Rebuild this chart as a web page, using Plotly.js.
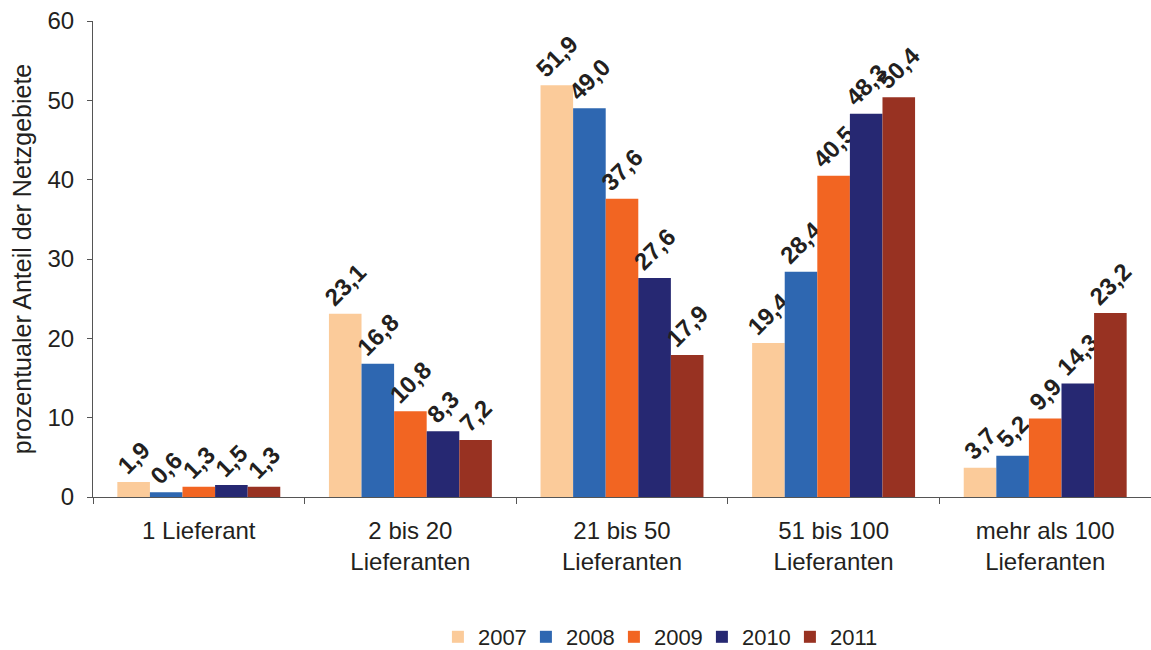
<!DOCTYPE html>
<html>
<head>
<meta charset="utf-8">
<script src="https://cdn.plot.ly/plotly-3.0.1.min.js"></script>
<style>
html,body{margin:0;padding:0;background:#fff;}
#chart{width:1151px;height:650px;}
</style>
</head>
<body>
<div id="chart"></div>
<script>
const categories = ["1 Lieferant", "2 bis 20<br>Lieferanten", "21 bis 50<br>Lieferanten", "51 bis 100<br>Lieferanten", "mehr als 100<br>Lieferanten"];
const years = ["2007", "2008", "2009", "2010", "2011"];
const v2007 = [1.9, 23.1, 51.9, 19.4, 3.7];
const v2008 = [0.6, 16.8, 49.0, 28.4, 5.2];
const v2009 = [1.3, 10.8, 37.6, 40.5, 9.9];
const v2010 = [1.5, 8.3, 27.6, 48.3, 14.3];
const v2011 = [1.3, 7.2, 17.9, 50.4, 23.2];
const yTicks = [0, 10, 20, 30, 40, 50, 60];

const series = [v2007, v2008, v2009, v2010, v2011];
const colors = ["#FBCB9A", "#2E67B1", "#F26522", "#262872", "#983222"];
const fontFam = "Liberation Sans, Arial, sans-serif";

const traces = series.map((vals, i) => ({
  type: "bar",
  name: years[i],
  x: categories,
  y: vals,
  marker: {color: colors[i], line: {width: 0}},
  text: vals.map(v => v.toFixed(1).replace(".", ",")),
  textposition: "outside",
  textangle: -45,
  constraintext: "none",
  cliponaxis: false,
  outsidetextfont: {family: fontFam, size: 24, color: "#231f20", weight: "bold"},
  hoverinfo: "skip"
}));

const layout = {
  width: 1151,
  height: 650,
  margin: {l: 93, r: 0, t: 21, b: 153, autoexpand: false},
  paper_bgcolor: "#fff",
  plot_bgcolor: "#fff",
  barmode: "group",
  bargap: 0.23,
  bargroupgap: 0,
  showlegend: true,
  legend: {
    orientation: "h",
    xref: "paper",
    x: 0.326, xanchor: "left",
    yref: "container",
    y: 0.02, yanchor: "middle",
    entrywidth: 43,
    entrywidthmode: "pixels",
    font: {family: fontFam, size: 22, color: "#231f20"},
    traceorder: "normal"
  },
  xaxis: {
    type: "category",
    tickson: "boundaries",
    ticks: "outside",
    ticklen: 6,
    tickcolor: "#555",
    showline: true,
    linecolor: "#555",
    linewidth: 1,
    showgrid: false,
    tickfont: {family: fontFam, size: 24, color: "#231f20"},
    ticklabelstandoff: 12
  },
  yaxis: {
    range: [0, 60],
    tickvals: yTicks,
    ticktext: yTicks.map(String),
    ticks: "outside",
    ticklen: 5,
    tickcolor: "#555",
    showline: true,
    linecolor: "#555",
    linewidth: 1,
    showgrid: false,
    zeroline: false,
    ticklabelstandoff: 8,
    tickfont: {family: fontFam, size: 24, color: "#231f20"},
    title: {text: "prozentualer Anteil der Netzgebiete", font: {family: fontFam, size: 25, color: "#231f20"}, standoff: 8}
  },
  font: {family: fontFam}
};

Plotly.newPlot("chart", traces, layout, {displayModeBar: false, staticPlot: true});
</script>
</body>
</html>
